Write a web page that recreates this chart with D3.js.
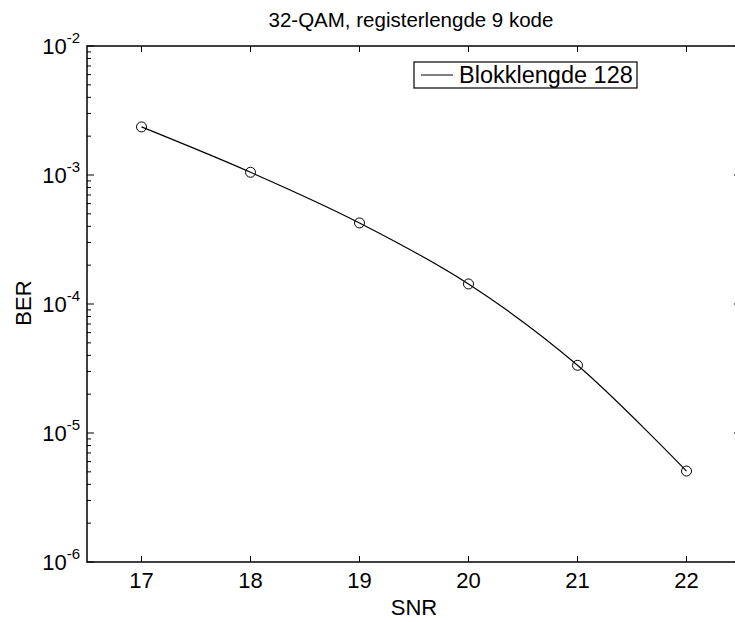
<!DOCTYPE html>
<html>
<head>
<meta charset="utf-8">
<script src="https://cdn.jsdelivr.net/npm/d3@7"></script>
<style>
  body { margin: 0; background: #fff; }
  text { font-family: "Liberation Sans", Arial, sans-serif; fill: #000; }
</style>
</head>
<body>
<div id="chart"></div>
<script>
// values
const snr = [17, 18, 19, 20, 21, 22];
const ber = [2.36e-3, 1.05e-3, 4.25e-4, 1.43e-4, 3.35e-5, 5.07e-6];
const xTicks = [17, 18, 19, 20, 21, 22];
const yExponents = [-2, -3, -4, -5, -6];
const seriesName = 'Blokklengde 128';

const width = 735, height = 622;
// the right edge of the axes box sits just outside the window
const margin = {top: 46, right: -6, bottom: 60, left: 87};
const innerW = width - margin.left - margin.right;
const innerH = height - margin.top - margin.bottom;

const svg = d3.select('#chart').append('svg')
    .attr('width', width)
    .attr('height', height);

const chart = svg.append('g')
    .attr('transform', `translate(${margin.left},${margin.top})`);

const x = d3.scaleLinear().domain([16.5, 22.5]).range([0, innerW]);
const y = d3.scaleLog().domain([1e-6, 1e-2]).range([innerH, 0]);

// minor ticks 2..9 per decade
const minor = [];
for (let e = -6; e < -2; e++) {
  for (let m = 2; m <= 9; m++) minor.push(m * Math.pow(10, e));
}

const axes = chart.append('g').attr('stroke', '#000').attr('stroke-width', 1);

// x ticks, bottom and top, pointing inward
xTicks.forEach(t => {
  axes.append('line').attr('x1', x(t)).attr('x2', x(t)).attr('y1', innerH).attr('y2', innerH - 6);
  axes.append('line').attr('x1', x(t)).attr('x2', x(t)).attr('y1', 0).attr('y2', 6);
});
// y major ticks, left and right
yExponents.forEach(e => {
  const v = Math.pow(10, e);
  axes.append('line').attr('x1', 0).attr('x2', 7).attr('y1', y(v)).attr('y2', y(v));
  axes.append('line').attr('x1', innerW).attr('x2', innerW - 7).attr('y1', y(v)).attr('y2', y(v));
});
minor.forEach(v => {
  axes.append('line').attr('x1', 0).attr('x2', 4).attr('y1', y(v)).attr('y2', y(v));
  axes.append('line').attr('x1', innerW).attr('x2', innerW - 4).attr('y1', y(v)).attr('y2', y(v));
});

// axis box
chart.append('rect')
    .attr('width', innerW)
    .attr('height', innerH)
    .attr('fill', 'none')
    .attr('stroke', '#000')
    .attr('stroke-width', 1.5);

// x tick labels
chart.selectAll('.xlabel')
    .data(xTicks)
  .join('text')
    .attr('class', 'xlabel')
    .attr('x', d => x(d))
    .attr('y', innerH + 26)
    .attr('text-anchor', 'middle')
    .style('font-size', '22px')
    .text(d => d);

// y tick labels 10^e
const yl = chart.selectAll('.ylabel')
    .data(yExponents)
  .join('text')
    .attr('class', 'ylabel')
    .attr('x', -7)
    .attr('y', d => y(Math.pow(10, d)) + 8)
    .attr('text-anchor', 'end')
    .style('font-size', '22px');
yl.append('tspan').text('10');
yl.append('tspan')
    .attr('dy', -11)
    .style('font-size', '15px')
    .text(d => d);

// data line
const line = d3.line()
    .x(d => x(d[0]))
    .y(d => y(d[1]))
    .curve(d3.curveCatmullRom.alpha(0.5));

const pts = snr.map((s, i) => [s, ber[i]]);

chart.append('path')
    .datum(pts)
    .attr('d', line)
    .attr('fill', 'none')
    .attr('stroke', '#000')
    .attr('stroke-width', 1.2);

chart.selectAll('.marker')
    .data(pts)
  .join('circle')
    .attr('class', 'marker')
    .attr('cx', d => x(d[0]))
    .attr('cy', d => y(d[1]))
    .attr('r', 5)
    .attr('fill', 'none')
    .attr('stroke', '#000')
    .attr('stroke-width', 1);

// legend
const legend = svg.append('g').attr('transform', 'translate(414,62)');
legend.append('rect')
    .attr('width', 223)
    .attr('height', 26)
    .attr('fill', '#fff')
    .attr('stroke', '#000')
    .attr('stroke-width', 1.2);
legend.append('line')
    .attr('x1', 7).attr('x2', 39)
    .attr('y1', 13).attr('y2', 13)
    .attr('stroke', '#000')
    .attr('stroke-width', 1);
legend.append('text')
    .attr('x', 45)
    .attr('y', 21)
    .style('font-size', '23.5px')
    .text(seriesName);

// title and axis labels
svg.append('text')
    .attr('x', 411)
    .attr('y', 27)
    .attr('text-anchor', 'middle')
    .style('font-size', '20.5px')
    .text('32-QAM, registerlengde 9 kode');

svg.append('text')
    .attr('x', 414)
    .attr('y', 615)
    .attr('text-anchor', 'middle')
    .style('font-size', '22px')
    .text('SNR');

svg.append('text')
    .attr('transform', 'translate(31,303) rotate(-90)')
    .attr('text-anchor', 'middle')
    .style('font-size', '22px')
    .text('BER');
</script>
</body>
</html>
